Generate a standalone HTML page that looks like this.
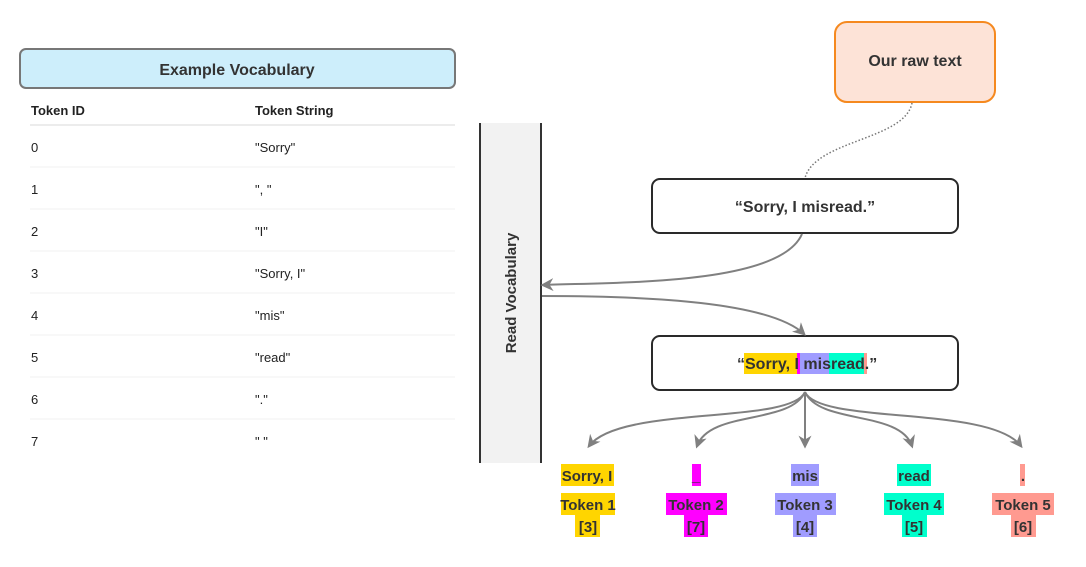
<!DOCTYPE html>
<html><head><meta charset="utf-8"><style>
html,body{margin:0;padding:0;background:#fff;width:1086px;height:567px;overflow:hidden;}
svg text{font-family:"Liberation Sans",sans-serif;}
</style></head><body>
<svg width="1086" height="567" viewBox="0 0 1086 567" xmlns="http://www.w3.org/2000/svg">
<defs>
<marker id="ah" viewBox="0 0 10 10" refX="8" refY="5" markerWidth="13" markerHeight="13" orient="auto-start-reverse" markerUnits="userSpaceOnUse">
<path d="M0,0 L10,5 L0,10 L3,5 z" fill="#808080"/></marker>
</defs>
<rect x="20" y="49" width="435" height="39" rx="6" fill="#cdeefb" stroke="#777" stroke-width="2"/>
<text x="237" y="75" font-size="16" font-weight="bold" text-anchor="middle" fill="#333">Example Vocabulary</text>
<g font-size="13" fill="#222">
<text x="31" y="115" font-weight="bold">Token ID</text><text x="255" y="115" font-weight="bold">Token String</text>
<text x="31" y="152">0</text><text x="255" y="152">"Sorry"</text>
<text x="31" y="194">1</text><text x="255" y="194">", "</text>
<text x="31" y="236">2</text><text x="255" y="236">"I"</text>
<text x="31" y="278">3</text><text x="255" y="278">"Sorry, I"</text>
<text x="31" y="320">4</text><text x="255" y="320">"mis"</text>
<text x="31" y="362">5</text><text x="255" y="362">"read"</text>
<text x="31" y="404">6</text><text x="255" y="404">"."</text>
<text x="31" y="446">7</text><text x="255" y="446">" "</text>
</g>
<g stroke-width="1">
<line x1="30" y1="125" x2="455" y2="125" stroke="#d8d8d8"/>
<line x1="30" y1="167" x2="455" y2="167" stroke="#f0f0f0"/>
<line x1="30" y1="209" x2="455" y2="209" stroke="#f0f0f0"/>
<line x1="30" y1="251" x2="455" y2="251" stroke="#f0f0f0"/>
<line x1="30" y1="293" x2="455" y2="293" stroke="#f0f0f0"/>
<line x1="30" y1="335" x2="455" y2="335" stroke="#f0f0f0"/>
<line x1="30" y1="377" x2="455" y2="377" stroke="#f0f0f0"/>
<line x1="30" y1="419" x2="455" y2="419" stroke="#f0f0f0"/>
</g>
<rect x="480" y="123" width="61" height="340" fill="#f2f2f2"/>
<line x1="480" y1="123" x2="480" y2="463" stroke="#333" stroke-width="2"/>
<line x1="541" y1="123" x2="541" y2="463" stroke="#333" stroke-width="2"/>
<text transform="translate(516,293) rotate(-90)" font-size="15" font-weight="bold" text-anchor="middle" fill="#333">Read Vocabulary</text>
<rect x="835" y="22" width="160" height="80" rx="12" fill="#fde3d7" stroke="#f5891f" stroke-width="2"/>
<text x="915" y="66" font-size="16" font-weight="bold" text-anchor="middle" fill="#333">Our raw text</text>
<path d="M912,103 C905,140 815,140 805,178" fill="none" stroke="#777" stroke-width="1.5" stroke-dasharray="1.5,2"/>
<rect x="652" y="179" width="306" height="54" rx="8" fill="#fff" stroke="#2a2a2a" stroke-width="2"/>
<text x="805" y="212" font-size="16" font-weight="bold" text-anchor="middle" fill="#333">“Sorry, I misread.”</text>
<rect x="652" y="336" width="306" height="54" rx="8" fill="#fff" stroke="#2a2a2a" stroke-width="2"/>
<rect x="744" y="353" width="53" height="21" fill="#ffd500"/>
<rect x="797" y="353" width="3" height="21" fill="#ff00ff"/>
<rect x="800" y="353" width="29" height="21" fill="#a09cff"/>
<rect x="829" y="353" width="35" height="21" fill="#00ffcc"/>
<rect x="864" y="353" width="3" height="21" fill="#ff9a90"/>
<text x="737" y="369" font-size="16" font-weight="bold" fill="#333">“Sorry, I misread.”</text>
<path d="M802,234 C780,285 620,282 543,285" fill="none" stroke="#808080" stroke-width="2" marker-end="url(#ah)"/>
<path d="M542,296 C650,296 770,302 804,334" fill="none" stroke="#808080" stroke-width="2" marker-end="url(#ah)"/>
<g fill="none" stroke="#808080" stroke-width="2" marker-end="url(#ah)">
<path d="M805,392 C790,425 620,405 589,446"/>
<path d="M805,392 C790,425 710,410 697,446"/>
<path d="M805,392 L805,446"/>
<path d="M805,392 C820,425 900,410 912,446"/>
<path d="M805,392 C820,425 990,405 1021,446"/>
</g>
<g font-size="15" font-weight="bold" fill="#333" text-anchor="middle">
<rect x="561" y="464" width="53" height="22" fill="#ffd500"/><text x="587" y="481">Sorry, I</text>
<rect x="692" y="464" width="9" height="22" fill="#ff00ff"/><text x="696" y="481">_</text>
<rect x="791" y="464" width="28" height="22" fill="#a09cff"/><text x="805" y="481">mis</text>
<rect x="897" y="464" width="34" height="22" fill="#00ffcc"/><text x="914" y="481">read</text>
<rect x="1020" y="464" width="5" height="22" fill="#ff9a90"/><text x="1023" y="481">.</text>
<rect x="561" y="493" width="54" height="22" fill="#ffd500"/><text x="588" y="510">Token 1</text>
<rect x="575" y="515" width="25" height="22" fill="#ffd500"/><text x="588" y="532">[3]</text>
<rect x="666" y="493" width="61" height="22" fill="#ff00ff"/><text x="696" y="510">Token 2</text>
<rect x="684" y="515" width="24" height="22" fill="#ff00ff"/><text x="696" y="532">[7]</text>
<rect x="775" y="493" width="61" height="22" fill="#a09cff"/><text x="805" y="510">Token 3</text>
<rect x="793" y="515" width="24" height="22" fill="#a09cff"/><text x="805" y="532">[4]</text>
<rect x="884" y="493" width="60" height="22" fill="#00ffcc"/><text x="914" y="510">Token 4</text>
<rect x="902" y="515" width="25" height="22" fill="#00ffcc"/><text x="914" y="532">[5]</text>
<rect x="992" y="493" width="62" height="22" fill="#ff9a90"/><text x="1023" y="510">Token 5</text>
<rect x="1011" y="515" width="25" height="22" fill="#ff9a90"/><text x="1023" y="532">[6]</text>
</g>
</svg>
</body></html>
